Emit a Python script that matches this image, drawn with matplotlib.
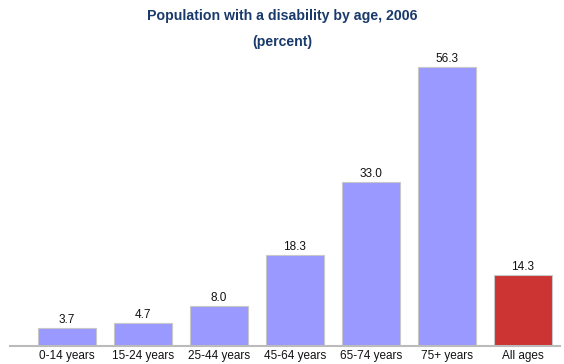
import matplotlib.pyplot as plt
import numpy as np

categories = ["0-14 years", "15-24 years", "25-44 years", "45-64 years",
              "65-74 years", "75+ years", "All ages"]
values = [3.7, 4.7, 8.0, 18.3, 33.0, 56.3, 14.3]
colors = ["#9999ff"] * 6 + ["#cc3333"]

plt.rcParams['font.family'] = ['Liberation Sans', 'DejaVu Sans']

fig = plt.figure(figsize=(5.64, 3.64), dpi=100)
ax = fig.add_axes([10 / 564, 18 / 364, 550 / 564, (346 - 48.7) / 364])

x = np.arange(len(categories))
bars = ax.bar(x, values, width=0.76, color=colors, edgecolor="#c8c8c8", linewidth=0.8)

for xi, v in zip(x, values):
    ax.annotate(f"{v:.1f}", (xi, v), textcoords="offset points", xytext=(0, 1.5),
                ha="center", va="bottom", fontsize=8.5, color="#111111")

ax.set_xlim(-0.75, 6.49)
ax.set_ylim(0, 60)
ax.set_xticks(x)
ax.set_xticklabels(categories, fontsize=8.5, color="#111111")
ax.tick_params(axis="x", length=0, pad=3)
ax.set_yticks([])
for side in ["top", "right", "left"]:
    ax.spines[side].set_visible(False)
ax.spines["bottom"].set_color("#bbbbbb")
ax.spines["bottom"].set_linewidth(1.5)

fig.text(0.5, 1 - 16 / 364, "Population with a disability by age, 2006", ha="center", va="center",
         fontsize=10.2, fontweight="bold", color="#1a3a6b")
fig.text(0.5, 1 - 42 / 364, "(percent)", ha="center", va="center",
         fontsize=10.2, fontweight="bold", color="#1a3a6b")

fig.savefig("out.png", dpi=100)
